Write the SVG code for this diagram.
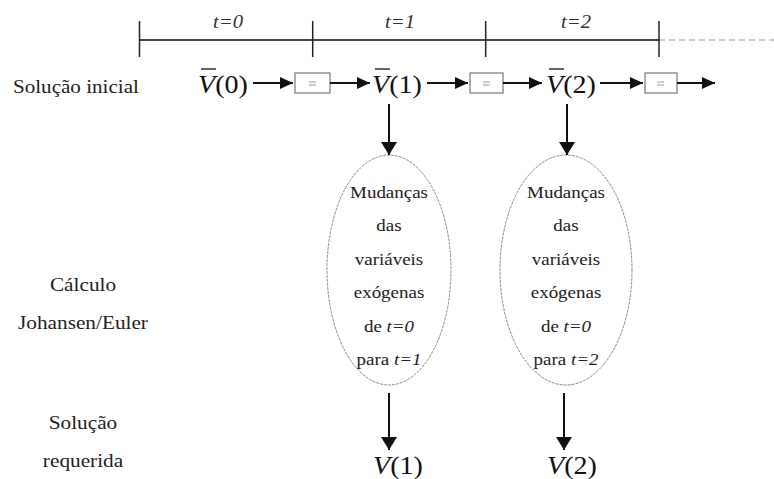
<svg xmlns="http://www.w3.org/2000/svg" width="774" height="479" viewBox="0 0 774 479">
<style>
.lbl{font-family:"Liberation Serif","Times New Roman",serif;font-size:19px;fill:#222;}
.el{font-family:"Liberation Serif","Times New Roman",serif;font-size:16.5px;fill:#222;text-anchor:middle;}
.it{font-style:italic;}
.math{font-family:"Liberation Serif","Times New Roman",serif;font-size:26px;fill:#111;}
.tl{font-family:"Liberation Serif","Times New Roman",serif;font-size:18px;font-style:italic;fill:#333;text-anchor:middle;}
.arr{stroke:#111;stroke-width:2;fill:none;}
.box{fill:#fff;stroke:#777;stroke-width:1.2;}
.eq{stroke:#999;stroke-width:1;}
.ell{fill:#fff;stroke:#888;stroke-width:1;stroke-dasharray:3 1;}
.bar{stroke:#111;stroke-width:1.3;}
</style>
<defs>
<marker id="ah" markerUnits="userSpaceOnUse" markerWidth="14" markerHeight="12" refX="13" refY="6" orient="auto">
<path d="M0,0 L13,6 L0,12 z" fill="#111"/>
</marker>
<marker id="ahv" markerUnits="userSpaceOnUse" markerWidth="14" markerHeight="16" refX="13" refY="8" orient="auto">
<path d="M0,0 L13,8 L0,16 z" fill="#111"/>
</marker>
</defs>

<g id="timeline">
<line x1="139.5" y1="40" x2="659" y2="40" stroke="#444" stroke-width="2"/>
<line x1="659" y1="40" x2="774" y2="40" stroke="#999" stroke-width="1.2" stroke-dasharray="6 4"/>
<line x1="139.5" y1="21" x2="139.5" y2="57" stroke="#222" stroke-width="1.5"/>
<line x1="312.7" y1="21" x2="312.7" y2="57" stroke="#222" stroke-width="1.5"/>
<line x1="485.7" y1="21" x2="485.7" y2="57" stroke="#222" stroke-width="1.5"/>
<line x1="659" y1="21" x2="659" y2="57" stroke="#222" stroke-width="1.5"/>
<text class="tl" transform="translate(228,28) scale(1.15,1)">t=0</text>
<text class="tl" transform="translate(400,28) scale(1.15,1)">t=1</text>
<text class="tl" transform="translate(576,28) scale(1.15,1)">t=2</text>
</g>

<g id="labels">
<text class="lbl" transform="translate(13,93) scale(1.11,1)">Solução inicial</text>
<text class="lbl" text-anchor="middle" transform="translate(83,291) scale(1.12,1)">Cálculo</text>
<text class="lbl" text-anchor="middle" transform="translate(83,329) scale(1.12,1)">Johansen/Euler</text>
<text class="lbl" text-anchor="middle" transform="translate(83,429) scale(1.12,1)">Solução</text>
<text class="lbl" text-anchor="middle" transform="translate(83,467) scale(1.12,1)">requerida</text>
</g>

<g id="v0">
<text class="math" transform="translate(198,93) scale(1.08,1)"><tspan class="it">V</tspan>(0)</text>
<line class="bar" x1="201" y1="69" x2="216" y2="69"/>
</g>
<g id="v1">
<text class="math" transform="translate(372,93) scale(1.08,1)"><tspan class="it">V</tspan>(1)</text>
<line class="bar" x1="375" y1="69" x2="390" y2="69"/>
</g>
<g id="v2">
<text class="math" transform="translate(546,93) scale(1.08,1)"><tspan class="it">V</tspan>(2)</text>
<line class="bar" x1="549" y1="69" x2="564" y2="69"/>
</g>

<g id="box1"><rect class="box" x="295" y="73" width="35" height="20"/><line class="eq" x1="309" y1="82" x2="316" y2="82"/><line class="eq" x1="309" y1="85" x2="316" y2="85"/></g>
<g id="box2"><rect class="box" x="470" y="73" width="33" height="20"/><line class="eq" x1="483" y1="82" x2="490" y2="82"/><line class="eq" x1="483" y1="85" x2="490" y2="85"/></g>
<g id="box3"><rect class="box" x="645" y="73" width="32" height="20"/><line class="eq" x1="657" y1="82" x2="664" y2="82"/><line class="eq" x1="657" y1="85" x2="664" y2="85"/></g>

<g id="ellipse1">
<ellipse class="ell" cx="389" cy="270" rx="62" ry="115"/>
<text class="el" transform="translate(389,198) scale(1.15,1)">Mudanças</text>
<text class="el" transform="translate(389,231.4) scale(1.15,1)">das</text>
<text class="el" transform="translate(389,264.8) scale(1.15,1)">variáveis</text>
<text class="el" transform="translate(389,298.2) scale(1.15,1)">exógenas</text>
<text class="el" transform="translate(389,331.6) scale(1.15,1)">de <tspan class="it">t=0</tspan></text>
<text class="el" transform="translate(389,365) scale(1.15,1)">para <tspan class="it">t=1</tspan></text>
</g>
<g id="ellipse2">
<ellipse class="ell" cx="566" cy="270" rx="66" ry="115"/>
<text class="el" transform="translate(566,198) scale(1.15,1)">Mudanças</text>
<text class="el" transform="translate(566,231.4) scale(1.15,1)">das</text>
<text class="el" transform="translate(566,264.8) scale(1.15,1)">variáveis</text>
<text class="el" transform="translate(566,298.2) scale(1.15,1)">exógenas</text>
<text class="el" transform="translate(566,331.6) scale(1.15,1)">de <tspan class="it">t=0</tspan></text>
<text class="el" transform="translate(566,365) scale(1.15,1)">para <tspan class="it">t=2</tspan></text>
</g>

<g id="r1">
<text class="math" transform="translate(373,474) scale(1.08,1)"><tspan class="it">V</tspan>(1)</text>
</g>
<g id="r2">
<text class="math" transform="translate(547,474) scale(1.08,1)"><tspan class="it">V</tspan>(2)</text>
</g>

<g id="connectors">
<line class="arr" x1="253" y1="83" x2="293" y2="83" marker-end="url(#ah)"/>
<line class="arr" x1="330" y1="83" x2="370" y2="83" marker-end="url(#ah)"/>
<line class="arr" x1="427" y1="83" x2="468" y2="83" marker-end="url(#ah)"/>
<line class="arr" x1="503" y1="83" x2="542" y2="83" marker-end="url(#ah)"/>
<line class="arr" x1="600" y1="83" x2="643" y2="83" marker-end="url(#ah)"/>
<line class="arr" x1="677" y1="83" x2="715" y2="83" marker-end="url(#ah)"/>
<line class="arr" x1="389" y1="104" x2="389" y2="155" marker-end="url(#ahv)"/>
<line class="arr" x1="567" y1="104" x2="567" y2="155" marker-end="url(#ahv)"/>
<line class="arr" x1="389" y1="393" x2="389" y2="450" marker-end="url(#ahv)"/>
<line class="arr" x1="564" y1="393" x2="564" y2="450" marker-end="url(#ahv)"/>
</g>
</svg>
